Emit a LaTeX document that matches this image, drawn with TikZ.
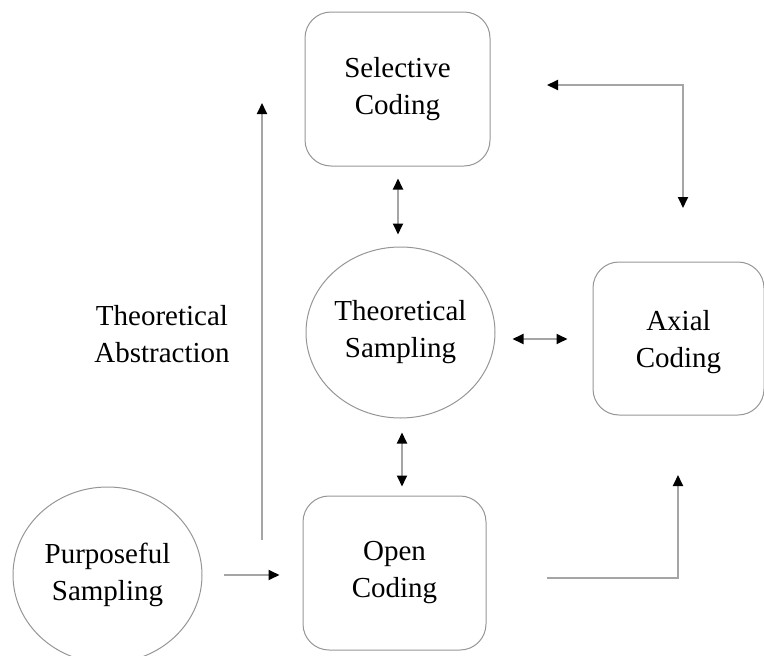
\documentclass[tikz,border=0pt]{standalone}
\usepackage{fontspec}
\setmainfont{Liberation Serif}
\usetikzlibrary{shapes.geometric,arrows.meta}
\definecolor{edgegray}{RGB}{150,150,150}
\definecolor{linegray}{RGB}{165,165,165}
\tikzset{
  lbl/.style={font=\fontsize{29}{37}\selectfont, align=center, text=black},
  box/.style={lbl, draw=edgegray, line width=1pt, rounded corners=26pt, inner sep=0pt},
  oval/.style={lbl, draw=edgegray, line width=1pt, ellipse, inner sep=0pt},
  link/.style={draw=linegray, line width=1.8pt},
  uni/.style={link, -{Triangle[length=11pt,width=10pt,color=black]}},
  bi/.style={link, {Triangle[length=11pt,width=10pt,color=black]}-{Triangle[length=11pt,width=10pt,color=black]}}
}
\begin{document}
\begin{tikzpicture}[x=1pt,y=-1pt]
\useasboundingbox (0,0) rectangle (764,656);

% the five stages
\node[box, minimum width=185pt, minimum height=154pt] (sel) at (397.5,89) {Selective\\Coding};
\node[oval, minimum width=189pt, minimum height=171pt] (ts) at (400.5,332.5) {Theoretical\\Sampling};
\node[box, minimum width=171pt, minimum height=153pt] (ax) at (678.5,338.5) {\\[-10pt]Axial\\Coding};
\node[box, minimum width=183pt, minimum height=154pt] (open) at (394.5,573) {Open\\Coding};
\node[oval, minimum width=189pt, minimum height=176pt] (purp) at (107.5,575) {Purposeful\\Sampling};

\node[lbl] (abs) at (162,334) {Theoretical\\Abstraction};

% free ends of the elbow and side connectors
\coordinate (absbot) at (262,540);
\coordinate (abstop) at (262,103);
\coordinate (ocstart) at (547,578);
\coordinate (octip) at (678,475);
\coordinate (scstart) at (547,85);
\coordinate (sctip) at (683,208);

% links between the central stages
\draw[bi, shorten <=12pt, shorten >=12pt] ([xshift=0.5pt]sel.south) -- ([xshift=0.5pt]sel.south |- ts.north);
\draw[bi, shorten <=14pt, shorten >=9pt] ([xshift=1.5pt]ts.south) -- ([xshift=1.5pt]ts.south |- open.north);
\draw[bi, shorten <=17pt, shorten >=25pt] ([yshift=-6.5pt]ts.east) -- ([yshift=-6.5pt]ts.east -| ax.west);
\draw[uni, shorten <=21pt, shorten >=23pt] (purp.east) -- (purp.east -| open.west);

% outer connectors
\draw[uni] (absbot) -- (abstop);
\draw[uni] (ocstart) -| (octip);
\draw[bi] (scstart) -| (sctip);
\end{tikzpicture}
\end{document}
